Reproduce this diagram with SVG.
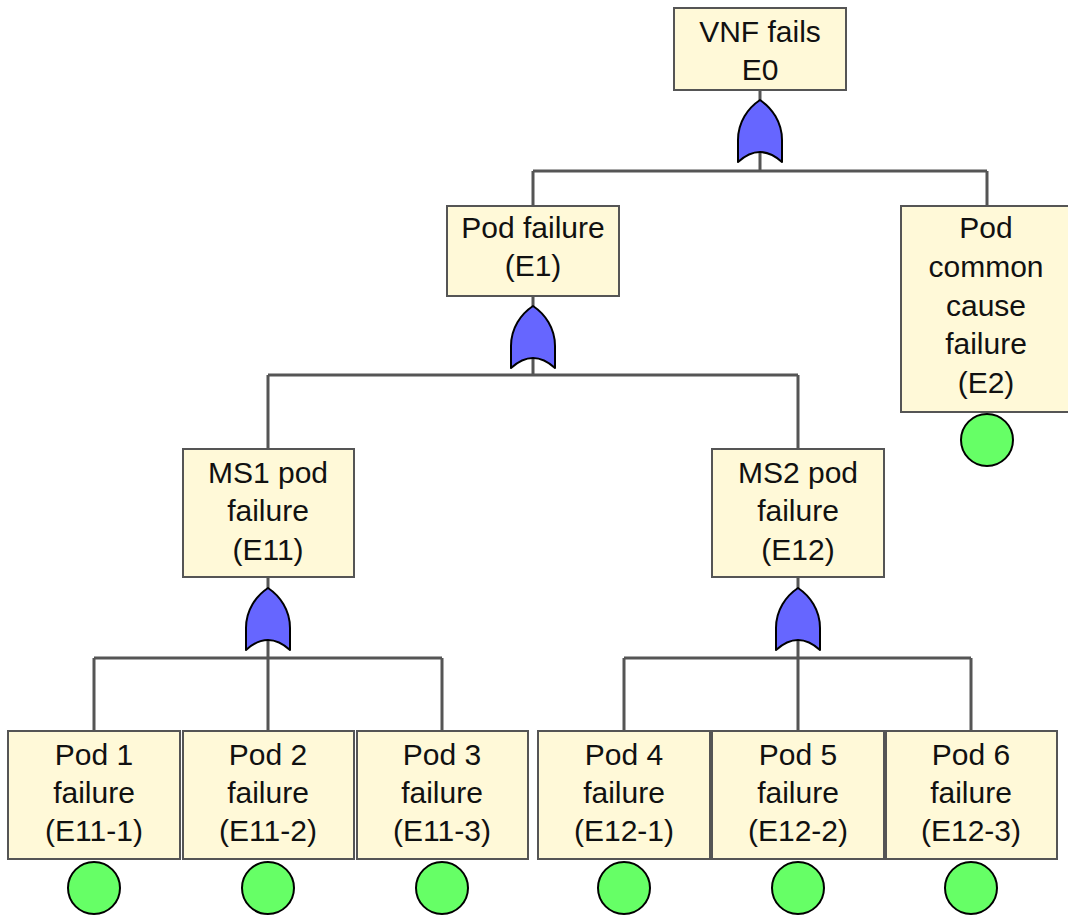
<svg xmlns="http://www.w3.org/2000/svg" width="1068" height="918" viewBox="0 0 1068 918">
  <style>
    .box { fill: #fff9d8; stroke: #555555; stroke-width: 2; }
    .lbl { font-family: "Liberation Sans", Arial, sans-serif; font-size: 30px; fill: #111111; text-anchor: middle; }
    .wire { stroke: #555555; stroke-width: 3; fill: none; }
    .gate { fill: #6666ff; stroke: #000000; stroke-width: 2; stroke-linejoin: round; }
    .basic { fill: #66ff66; stroke: #000000; stroke-width: 2; }
  </style>
  <defs>
    <!-- OR gate, origin at its top point -->
    <path id="orgate" class="gate" d="M0,0 C12,8 22,22 22,40 L22,62 Q0,42 -22,62 L-22,40 C-22,22 -12,8 0,0 Z"/>
  </defs>

  <g id="connectors">
    <!-- top level -->
    <path class="wire" d="M760,90 V171 M533,171 H987 M533,171 V206 M987,171 V206"/>
    <!-- E1 level -->
    <path class="wire" d="M533,296 V375 M268,375 H798 M268,375 V449 M798,375 V449"/>
    <!-- E11 level -->
    <path class="wire" d="M268,577 V731 M94,658 H442 M94,658 V731 M442,658 V731"/>
    <!-- E12 level -->
    <path class="wire" d="M798,577 V731 M624,658 H971 M624,658 V731 M971,658 V731"/>
  </g>

  <g id="E0">
    <rect class="box" x="674" y="8" width="172" height="82"/>
    <text class="lbl" x="760" y="42">VNF fails</text>
    <text class="lbl" x="760" y="80">E0</text>
    <use href="#orgate" x="760" y="100"/>
  </g>

  <g id="E1">
    <rect class="box" x="447" y="206" width="172" height="90"/>
    <text class="lbl" x="533" y="238">Pod failure</text>
    <text class="lbl" x="533" y="276">(E1)</text>
    <use href="#orgate" x="533" y="306"/>
  </g>

  <g id="E2">
    <rect class="box" x="901" y="206" width="172" height="206"/>
    <text class="lbl" x="986" y="238">Pod</text>
    <text class="lbl" x="986" y="277">common</text>
    <text class="lbl" x="986" y="316">cause</text>
    <text class="lbl" x="986" y="354">failure</text>
    <text class="lbl" x="986" y="393">(E2)</text>
    <circle class="basic" cx="987" cy="440" r="26"/>
  </g>

  <g id="E11">
    <rect class="box" x="183" y="449" width="171" height="128"/>
    <text class="lbl" x="268" y="483">MS1 pod</text>
    <text class="lbl" x="268" y="521">failure</text>
    <text class="lbl" x="268" y="560">(E11)</text>
    <use href="#orgate" x="268" y="588"/>
  </g>

  <g id="E12">
    <rect class="box" x="712" y="449" width="172" height="128"/>
    <text class="lbl" x="798" y="483">MS2 pod</text>
    <text class="lbl" x="798" y="521">failure</text>
    <text class="lbl" x="798" y="560">(E12)</text>
    <use href="#orgate" x="798" y="588"/>
  </g>

  <g id="E11-1">
    <rect class="box" x="8" y="731" width="172" height="128"/>
    <text class="lbl" x="94" y="765">Pod 1</text>
    <text class="lbl" x="94" y="803">failure</text>
    <text class="lbl" x="94" y="841">(E11-1)</text>
    <circle class="basic" cx="94" cy="888" r="26"/>
  </g>

  <g id="E11-2">
    <rect class="box" x="183" y="731" width="171" height="128"/>
    <text class="lbl" x="268" y="765">Pod 2</text>
    <text class="lbl" x="268" y="803">failure</text>
    <text class="lbl" x="268" y="841">(E11-2)</text>
    <circle class="basic" cx="268" cy="888" r="26"/>
  </g>

  <g id="E11-3">
    <rect class="box" x="357" y="731" width="171" height="128"/>
    <text class="lbl" x="442" y="765">Pod 3</text>
    <text class="lbl" x="442" y="803">failure</text>
    <text class="lbl" x="442" y="841">(E11-3)</text>
    <circle class="basic" cx="442" cy="888" r="26"/>
  </g>

  <g id="E12-1">
    <rect class="box" x="538" y="731" width="172" height="128"/>
    <text class="lbl" x="624" y="765">Pod 4</text>
    <text class="lbl" x="624" y="803">failure</text>
    <text class="lbl" x="624" y="841">(E12-1)</text>
    <circle class="basic" cx="624" cy="888" r="26"/>
  </g>

  <g id="E12-2">
    <rect class="box" x="712" y="731" width="172" height="128"/>
    <text class="lbl" x="798" y="765">Pod 5</text>
    <text class="lbl" x="798" y="803">failure</text>
    <text class="lbl" x="798" y="841">(E12-2)</text>
    <circle class="basic" cx="798" cy="888" r="26"/>
  </g>

  <g id="E12-3">
    <rect class="box" x="886" y="731" width="171" height="128"/>
    <text class="lbl" x="971" y="765">Pod 6</text>
    <text class="lbl" x="971" y="803">failure</text>
    <text class="lbl" x="971" y="841">(E12-3)</text>
    <circle class="basic" cx="971" cy="888" r="26"/>
  </g>
</svg>
